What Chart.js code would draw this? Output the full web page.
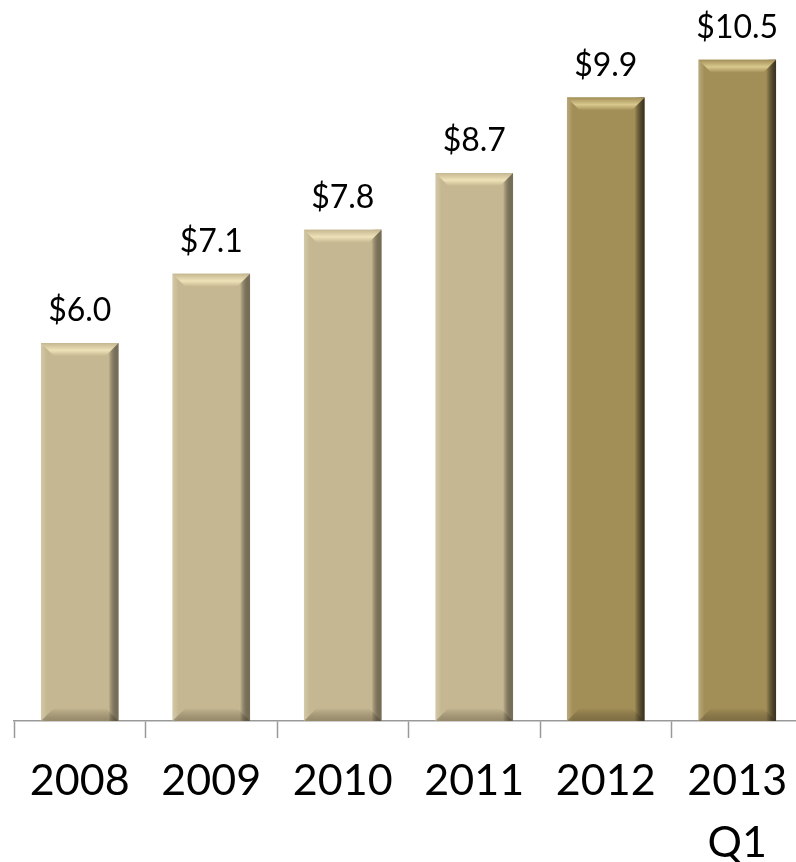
<!DOCTYPE html>
<html>
<head>
<meta charset="utf-8">
<script src="https://cdn.jsdelivr.net/npm/chart.js@4"></script>
<style>
  html, body { margin: 0; padding: 0; background: #fff; overflow: hidden; }
  #wrap { width: 810px; height: 862px; position: relative; }
</style>
</head>
<body>
<div id="wrap"><canvas id="chart"></canvas></div>
<script>
const years = ['2008', '2009', '2010', '2011', '2012', ['2013', 'Q1']];
const values = [6.0, 7.1, 7.8, 8.7, 9.9, 10.5];
const valueLabels = ['$6.0', '$7.1', '$7.8', '$8.7', '$9.9', '$10.5'];
const barColors = ['#C5B791', '#C5B791', '#C5B791', '#C5B791', '#A28E57', '#A28E57'];
const topLight = ['#EEE2B8', '#EEE2B8', '#EEE2B8', '#EEE2B8', '#D9C98E', '#D9C98E'];
const sideDark = ['#7A715C', '#7A715C', '#7A715C', '#7A715C', '#3A3120', '#3A3120'];

// bevel look plus the value labels above each bar
const bevelPlugin = {
  id: 'bevel',
  afterDatasetsDraw(chart) {
    const ctx = chart.ctx;
    const meta = chart.getDatasetMeta(0);
    meta.data.forEach((bar, i) => {
      const w = bar.width;
      const l = bar.x - w / 2, r = bar.x + w / 2;
      const t = bar.y, b = bar.base;
      const bv = 13;
      ctx.save();
      // right side shade
      let g = ctx.createLinearGradient(r - 10, 0, r, 0);
      g.addColorStop(0, 'rgba(0,0,0,0)');
      g.addColorStop(1, sideDark[i]);
      ctx.fillStyle = g;
      ctx.fillRect(r - 10, t, 10, b - t);
      // left side light edge
      g = ctx.createLinearGradient(l, 0, l + 6, 0);
      g.addColorStop(0, 'rgba(255,255,240,0.25)');
      g.addColorStop(1, 'rgba(255,255,240,0)');
      ctx.fillStyle = g;
      ctx.fillRect(l, t, 6, b - t);
      // top bevel
      g = ctx.createLinearGradient(0, t, 0, t + bv);
      g.addColorStop(0, barColors[i]);
      g.addColorStop(0.55, topLight[i]);
      g.addColorStop(1, barColors[i]);
      ctx.fillStyle = g;
      ctx.beginPath();
      ctx.moveTo(l, t); ctx.lineTo(r, t);
      ctx.lineTo(r - bv, t + bv); ctx.lineTo(l + bv, t + bv);
      ctx.closePath(); ctx.fill();
      // bottom bevel
      g = ctx.createLinearGradient(0, b - bv, 0, b);
      g.addColorStop(0, 'rgba(0,0,0,0)');
      g.addColorStop(1, 'rgba(60,50,30,0.35)');
      ctx.fillStyle = g;
      ctx.beginPath();
      ctx.moveTo(l, b); ctx.lineTo(r, b);
      ctx.lineTo(r - bv, b - bv); ctx.lineTo(l + bv, b - bv);
      ctx.closePath(); ctx.fill();
      // value label
      ctx.fillStyle = '#000';
      ctx.font = '32px Lato, "Open Sans", sans-serif';
      ctx.textAlign = 'center';
      ctx.textBaseline = 'middle';
      ctx.fillText(valueLabels[i], bar.x, t - 32);
      ctx.restore();
    });
  }
};

new Chart(document.getElementById('chart'), {
  type: 'bar',
  data: {
    labels: years,
    datasets: [{
      data: values,
      backgroundColor: barColors,
      borderWidth: 0,
      barPercentage: 0.59,
      categoryPercentage: 1.0
    }]
  },
  options: {
    responsive: true,
    maintainAspectRatio: false,
    animation: false,
    layout: { padding: { left: 14, right: 7, top: 3, bottom: 0 } },
    plugins: { legend: { display: false }, tooltip: { enabled: false } },
    scales: {
      y: { display: false, min: 0, max: 11.4 },
      x: {
        offset: true,
        grid: { offset: true, drawOnChartArea: false, tickLength: 17, color: '#999', tickWidth: 1.5 },
        border: { color: '#999', width: 1.5 },
        ticks: {
          color: '#000',
          padding: 12,
          font: { family: 'Lato, "Open Sans", sans-serif', size: 43, lineHeight: 1.45 },
          maxRotation: 0,
          autoSkip: false
        },
        afterFit(scale) { scale.height = 141; }
      }
    }
  },
  plugins: [bevelPlugin]
});
</script>
</body>
</html>
